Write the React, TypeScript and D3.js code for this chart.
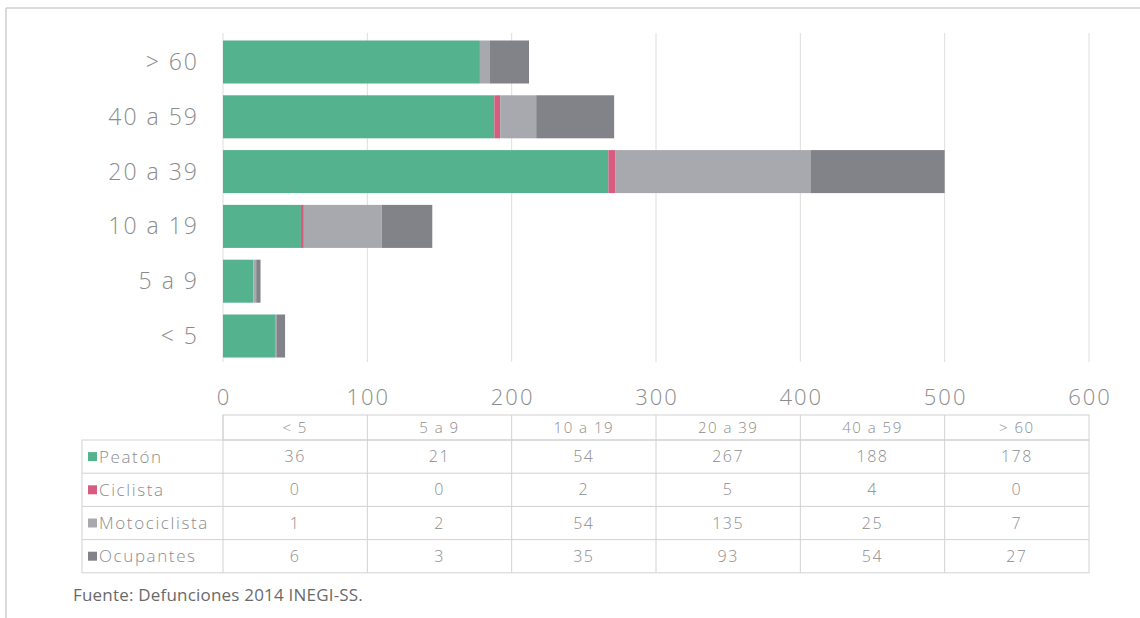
import React from "react";
import * as d3 from "d3";

// age groups, bottom to top of chart / left to right in the table
const ageGroups = ["< 5", "5 a 9", "10 a 19", "20 a 39", "40 a 59", "> 60"];
const seriesNames = ["Peatón", "Ciclista", "Motociclista", "Ocupantes"];
const peaton = [36, 21, 54, 267, 188, 178];
const ciclista = [0, 0, 2, 5, 4, 0];
const motociclista = [1, 2, 54, 135, 25, 7];
const ocupantes = [6, 3, 35, 93, 54, 27];
const xTicks = [0, 100, 200, 300, 400, 500, 600];
const colors = ["#55b28e", "#d65c80", "#a7a9ae", "#818388"];
const source = "Fuente: Defunciones 2014 INEGI-SS.";

const W = 1140;
const H = 618;
const FONT = "'Open Sans', Lato, sans-serif";

export default function App() {
  const values = [peaton, ciclista, motociclista, ocupantes];
  const rows = ageGroups.map((g, i) => {
    const r: any = { group: g };
    seriesNames.forEach((s, k) => (r[s] = values[k][i]));
    return r;
  });
  const stacked = d3.stack().keys(seriesNames)(rows);

  const x = d3.scaleLinear().domain([0, 600]).range([223, 1089]);
  const y = d3
    .scaleBand()
    .domain([...ageGroups].reverse())
    .range([34.6, 363.4])
    .paddingInner(0.215)
    .paddingOuter(0.1075);

  // table geometry
  const headTop = 415;
  const headBottom = 440;
  const rowH = 33.2;
  const legendLeft = 82;
  const tableBottom = headBottom + rowH * seriesNames.length;
  const lineColor = "#d2d2d2";
  const textColor = "#8d8d8d";

  return (
    <svg width={W} height={H} style={{ position: "absolute", left: 0, top: 0, background: "#fff" }}>
      {/* frame */}
      <line x1={6} x2={W} y1={8} y2={8} stroke="#cfcfcf" strokeWidth={1.5} />
      <line x1={6} x2={6} y1={8} y2={H} stroke="#cfcfcf" strokeWidth={1.5} />

      {/* grid */}
      {xTicks.map((t) => (
        <line key={"g" + t} x1={x(t)} x2={x(t)} y1={33} y2={362} stroke="#dedede" strokeWidth={1} />
      ))}

      {/* bars */}
      {stacked.map((layer, k) => (
        <g key={layer.key} fill={colors[k]}>
          {layer.map((d: any, i) => (
            <rect
              key={i}
              x={x(d[0])}
              y={y(d.data.group)}
              width={Math.max(0, x(d[1]) - x(d[0]))}
              height={y.bandwidth()}
            />
          ))}
        </g>
      ))}

      {/* y labels */}
      {ageGroups.map((g) => (
        <text
          key={"y" + g}
          x={199}
          y={(y(g) as number) + y.bandwidth() / 2}
          dy="0.35em"
          textAnchor="end"
          fontFamily={FONT}
          fontWeight={300}
          fontSize={23}
          letterSpacing={2}
          fill="#8c8c8c"
        >
          {g}
        </text>
      ))}

      {/* x tick labels */}
      {xTicks.map((t) => (
        <text
          key={"t" + t}
          x={x(t) + 1}
          y={397}
          dy="0.35em"
          textAnchor="middle"
          fontFamily={FONT}
          fontWeight={300}
          fontSize={22}
          letterSpacing={2}
          fill="#8c8c8c"
        >
          {t}
        </text>
      ))}

      {/* data table */}
      <g fontFamily={FONT} fontWeight={300} fontSize={15} letterSpacing={1.5} fill={textColor}>
        <rect x={x(0)} y={headTop} width={x(600) - x(0)} height={headBottom - headTop} fill="none" stroke={lineColor} />
        <rect x={legendLeft} y={headBottom} width={x(600) - legendLeft} height={tableBottom - headBottom} fill="none" stroke={lineColor} />
        {seriesNames.map((s, k) =>
          k > 0 ? (
            <line key={"rl" + s} x1={legendLeft} x2={x(600)} y1={headBottom + rowH * k} y2={headBottom + rowH * k} stroke={lineColor} />
          ) : null
        )}
        {ageGroups.map((g, i) => (
          <line key={"cl" + g} x1={x(i * 100)} x2={x(i * 100)} y1={headTop} y2={tableBottom} stroke={lineColor} />
        ))}
        {ageGroups.map((g, i) => (
          <text key={"h" + g} x={x(i * 100 + 50)} y={(headTop + headBottom) / 2} dy="0.35em" textAnchor="middle">
            {g}
          </text>
        ))}
        {seriesNames.map((s, k) => {
          const cy = headBottom + rowH * k + rowH / 2;
          return (
            <g key={"r" + s}>
              <rect x={88} y={cy - 4.5} width={9} height={9} fill={colors[k]} />
              <text x={99} y={cy} dy="0.35em" fontSize={17} letterSpacing={1.6}>
                {s}
              </text>
              {values[k].map((v, i) => (
                <text key={i} x={x(i * 100 + 50)} y={cy} dy="0.35em" textAnchor="middle" fontSize={16}>
                  {v}
                </text>
              ))}
            </g>
          );
        })}
      </g>

      <text x={73} y={595} dy="0.35em" fontFamily={FONT} fontWeight={400} fontSize={17} letterSpacing={0.2} fill="#6a6a6a">
        {source}
      </text>
    </svg>
  );
}
